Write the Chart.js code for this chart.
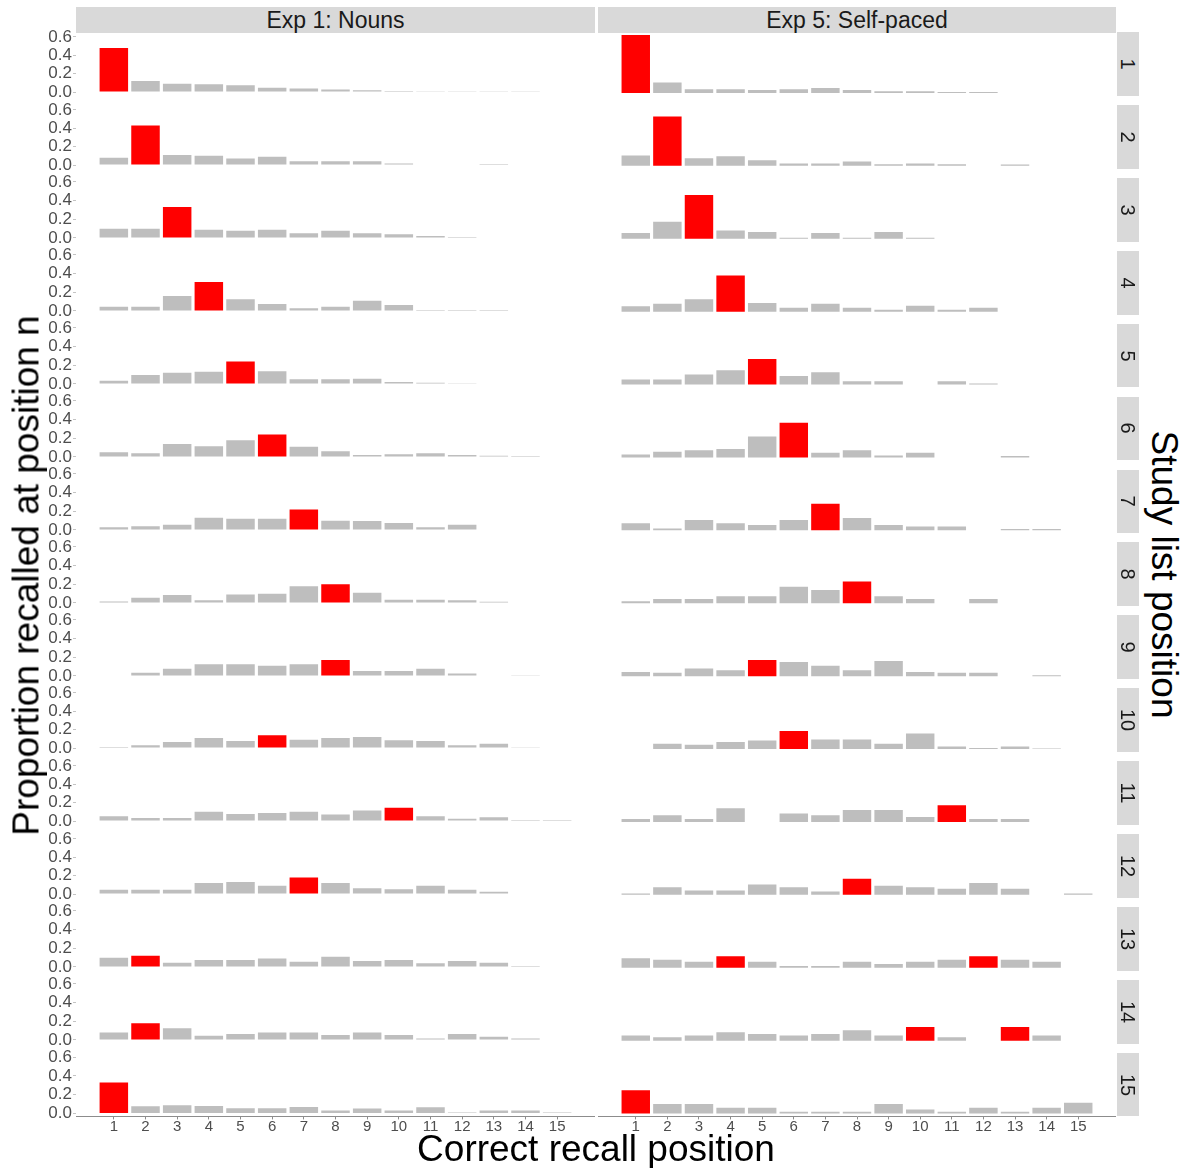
<!DOCTYPE html>
<html>
<head>
<meta charset="utf-8">
<script src="https://cdn.jsdelivr.net/npm/chart.js@4.4.1/dist/chart.umd.min.js"></script>
<style>
html,body{margin:0;padding:0;background:#ffffff;}
body{width:1183px;height:1168px;position:relative;overflow:hidden;font-family:'Liberation Sans',Arial,sans-serif;}
canvas{position:absolute;}
.strip{position:absolute;background:#d9d9d9;color:#1a1a1a;display:flex;align-items:center;justify-content:center;white-space:nowrap;}
.title{position:absolute;color:#000;font-size:37px;line-height:37px;white-space:nowrap;text-align:center;}
</style>
</head>
<body>
<script>
// ---------- data ----------
const recallPositions = [1,2,3,4,5,6,7,8,9,10,11,12,13,14,15];
const studyPositions  = [1,2,3,4,5,6,7,8,9,10,11,12,13,14,15];
const yTickValues = [0.0, 0.2, 0.4, 0.6];
const experimentLabels = ['Exp 1: Nouns', 'Exp 5: Self-paced'];

// Exp 1: Nouns — one row per study list position (null = no bar)
const nounsRows = [
  [0.48, 0.12, 0.09, 0.085, 0.074, 0.045, 0.039, 0.028, 0.02, 0.01, 0.008, 0.008, 0.008, 0.008, null],
  [0.08, 0.43, 0.11, 0.10, 0.07, 0.09, 0.04, 0.04, 0.04, 0.015, 0.005, null, 0.012, null, null],
  [0.10, 0.10, 0.333, 0.088, 0.077, 0.088, 0.05, 0.077, 0.05, 0.04, 0.02, 0.01, null, 0.005, null],
  [0.045, 0.045, 0.16, 0.31, 0.126, 0.074, 0.03, 0.045, 0.11, 0.063, 0.01, 0.01, 0.01, null, null],
  [0.035, 0.095, 0.12, 0.13, 0.24, 0.137, 0.05, 0.05, 0.056, 0.02, 0.012, 0.008, null, 0.005, 0.005],
  [0.05, 0.04, 0.14, 0.115, 0.18, 0.24, 0.11, 0.06, 0.02, 0.03, 0.04, 0.02, 0.012, 0.01, null],
  [0.028, 0.04, 0.056, 0.13, 0.12, 0.12, 0.22, 0.10, 0.095, 0.074, 0.028, 0.056, null, null, null],
  [0.015, 0.056, 0.084, 0.028, 0.09, 0.10, 0.18, 0.20, 0.11, 0.035, 0.035, 0.028, 0.012, null, null],
  [null, 0.035, 0.077, 0.126, 0.126, 0.11, 0.126, 0.17, 0.053, 0.053, 0.077, 0.025, null, 0.007, null],
  [0.01, 0.03, 0.065, 0.11, 0.075, 0.14, 0.09, 0.11, 0.12, 0.085, 0.075, 0.03, 0.045, 0.008, null],
  [0.053, 0.032, 0.032, 0.10, 0.077, 0.088, 0.10, 0.07, 0.115, 0.145, 0.053, 0.025, 0.042, 0.01, 0.01],
  [0.045, 0.045, 0.045, 0.12, 0.13, 0.09, 0.18, 0.12, 0.063, 0.053, 0.09, 0.045, 0.025, null, null],
  [0.10, 0.12, 0.045, 0.074, 0.074, 0.09, 0.056, 0.11, 0.063, 0.074, 0.04, 0.063, 0.045, 0.01, null],
  [0.08, 0.18, 0.126, 0.045, 0.063, 0.08, 0.08, 0.053, 0.08, 0.053, 0.015, 0.063, 0.035, 0.015, null],
  [0.33, 0.077, 0.088, 0.08, 0.056, 0.056, 0.07, 0.032, 0.053, 0.032, 0.067, 0.012, 0.032, 0.032, 0.012]
];

// Exp 5: Self-paced
const selfPacedRows = [
  [0.61, 0.11, 0.04, 0.04, 0.03, 0.04, 0.053, 0.03, 0.018, 0.018, 0.01, 0.01, null, null, null],
  [0.11, 0.52, 0.08, 0.10, 0.06, 0.025, 0.025, 0.045, 0.018, 0.025, 0.018, null, 0.014, null, null],
  [0.06, 0.18, 0.46, 0.088, 0.07, 0.01, 0.06, 0.01, 0.07, 0.01, null, null, null, null, null],
  [0.056, 0.084, 0.13, 0.38, 0.09, 0.04, 0.084, 0.04, 0.02, 0.063, 0.02, 0.04, null, null, null],
  [0.053, 0.053, 0.105, 0.15, 0.27, 0.09, 0.13, 0.035, 0.035, null, 0.035, 0.01, null, null, null],
  [0.03, 0.06, 0.077, 0.088, 0.22, 0.365, 0.05, 0.077, 0.02, 0.05, null, null, 0.015, null, null],
  [0.074, 0.02, 0.11, 0.074, 0.056, 0.11, 0.28, 0.13, 0.056, 0.04, 0.04, null, 0.015, 0.015, null],
  [0.02, 0.045, 0.045, 0.074, 0.074, 0.175, 0.14, 0.23, 0.074, 0.045, null, 0.045, null, null, null],
  [0.045, 0.035, 0.08, 0.063, 0.17, 0.15, 0.11, 0.063, 0.16, 0.045, 0.035, 0.035, null, 0.01, null],
  [null, 0.056, 0.045, 0.074, 0.09, 0.19, 0.10, 0.10, 0.056, 0.165, 0.028, 0.01, 0.028, 0.007, null],
  [0.032, 0.07, 0.032, 0.145, null, 0.088, 0.07, 0.126, 0.126, 0.053, 0.175, 0.032, 0.032, null, null],
  [0.014, 0.08, 0.045, 0.045, 0.11, 0.08, 0.035, 0.17, 0.095, 0.08, 0.063, 0.126, 0.063, null, 0.014],
  [0.10, 0.084, 0.063, 0.12, 0.063, 0.018, 0.018, 0.063, 0.04, 0.063, 0.084, 0.12, 0.084, 0.063, null],
  [0.053, 0.035, 0.053, 0.088, 0.07, 0.053, 0.07, 0.11, 0.053, 0.145, 0.035, null, 0.145, 0.053, null],
  [0.245, 0.10, 0.10, 0.06, 0.06, 0.02, 0.02, 0.02, 0.10, 0.042, 0.02, 0.06, 0.02, 0.06, 0.115]
];

// ---------- layout ----------
const FONT = "'Liberation Sans', Arial, sans-serif";
const columns = [{left: 76, right: 595}, {left: 598, right: 1116}];
const panelTop0 = 32.15, rowPitch = 72.9, panelH = 63.7;
const yMin = -0.0305, yMax = 0.6405;
const xMin = -0.195, xMax = 16.195;
const yAxisW = 76, xAxisH = 30, pad = 10;

function addDiv(cls, text, css) {
  const d = document.createElement('div');
  d.className = cls;
  d.textContent = text;
  Object.assign(d.style, css);
  document.body.appendChild(d);
  return d;
}

function makePanel(col, row, values) {
  const isLeft = col === 0, isBottom = row === studyPositions.length - 1;
  const c = columns[col];
  const exactTop = panelTop0 + row * rowPitch;
  const canvasTop = Math.floor(exactTop) - pad;
  const padTop = exactTop - canvasTop;
  const canvasLeft = isLeft ? 0 : c.left;
  const width = c.right - canvasLeft;
  const height = Math.ceil(padTop + panelH + (isBottom ? xAxisH : 0) + pad);
  const padBottom = height - padTop - panelH - (isBottom ? xAxisH : 0);

  const cv = document.createElement('canvas');
  cv.width = width; cv.height = height;
  cv.style.left = canvasLeft + 'px'; cv.style.top = canvasTop + 'px';
  cv.style.width = width + 'px'; cv.style.height = height + 'px';
  document.body.appendChild(cv);

  const present = values.filter(v => v !== null);
  const maxV = Math.max(...present);

  new Chart(cv.getContext('2d'), {
    type: 'bar',
    data: {
      datasets: [{
        data: recallPositions.map((p, i) => ({x: p, y: values[i]})),
        backgroundColor: values.map(v => v === maxV ? '#ff0000' : '#bebebe'),
        borderWidth: 0,
        barPercentage: 0.9,
        categoryPercentage: 1.0
      }]
    },
    options: {
      responsive: false,
      maintainAspectRatio: false,
      animation: false,
      devicePixelRatio: 1,
      layout: {padding: {left: 0, right: 0, top: padTop, bottom: padBottom}},
      plugins: {legend: {display: false}, tooltip: {enabled: false}},
      scales: {
        x: {
          type: 'linear',
          min: xMin, max: xMax,
          offset: false,
          display: isBottom,
          afterBuildTicks: s => { s.ticks = recallPositions.map(v => ({value: v})); },
          afterFit: s => { s.height = isBottom ? xAxisH : 0; },
          border: {display: true, color: '#8c8c8c', width: 1},
          grid: {display: true, offset: false, drawOnChartArea: false, drawTicks: true, tickLength: 3, color: '#8c8c8c'},
          ticks: {autoSkip: false, maxRotation: 0, padding: -2, color: '#4d4d4d', font: {family: FONT, size: 15},
                  callback: v => String(v)}
        },
        y: {
          type: 'linear',
          min: yMin, max: yMax,
          display: isLeft,
          afterBuildTicks: s => { s.ticks = yTickValues.map(v => ({value: v})); },
          afterFit: s => { s.width = isLeft ? yAxisW : 0; },
          border: {display: false},
          grid: {display: true, drawOnChartArea: false, drawTicks: true, tickLength: 3, color: '#c4c4c4'},
          ticks: {autoSkip: false, padding: 1, color: '#4d4d4d', font: {family: FONT, size: 17},
                  callback: v => Number(v).toFixed(1)}
        }
      }
    }
  });

  // right-hand strip (study list position)
  if (!isLeft) {
    const s = addDiv('strip', '', {left: '1117px', top: exactTop + 'px', width: '22px', height: panelH + 'px'});
    const t = document.createElement('span');
    t.textContent = String(studyPositions[row]);
    Object.assign(t.style, {display: 'inline-block', transform: 'rotate(90deg)', fontSize: '20px', lineHeight: '20px'});
    s.appendChild(t);
  }
}

// top strips
experimentLabels.forEach((lab, i) => {
  const c = columns[i];
  addDiv('strip', lab, {left: c.left + 'px', top: '7.3px', width: (c.right - c.left) + 'px', height: '25.4px', fontSize: '23px'});
});

studyPositions.forEach((sp, r) => {
  makePanel(0, r, nounsRows[r]);
  makePanel(1, r, selfPacedRows[r]);
});

// axis titles
addDiv('title', 'Proportion recalled at position n', {left: (25.5 - 350) + 'px', top: (575 - 18.5) + 'px', width: '700px', height: '37px', transform: 'rotate(-90deg)'});
addDiv('title', 'Correct recall position', {left: (596 - 350) + 'px', top: '1130px', width: '700px', height: '37px'});
addDiv('title', 'Study list position', {left: (1164 - 350) + 'px', top: (574 - 18.5) + 'px', width: '700px', height: '37px', transform: 'rotate(90deg)'});
</script>
</body>
</html>
